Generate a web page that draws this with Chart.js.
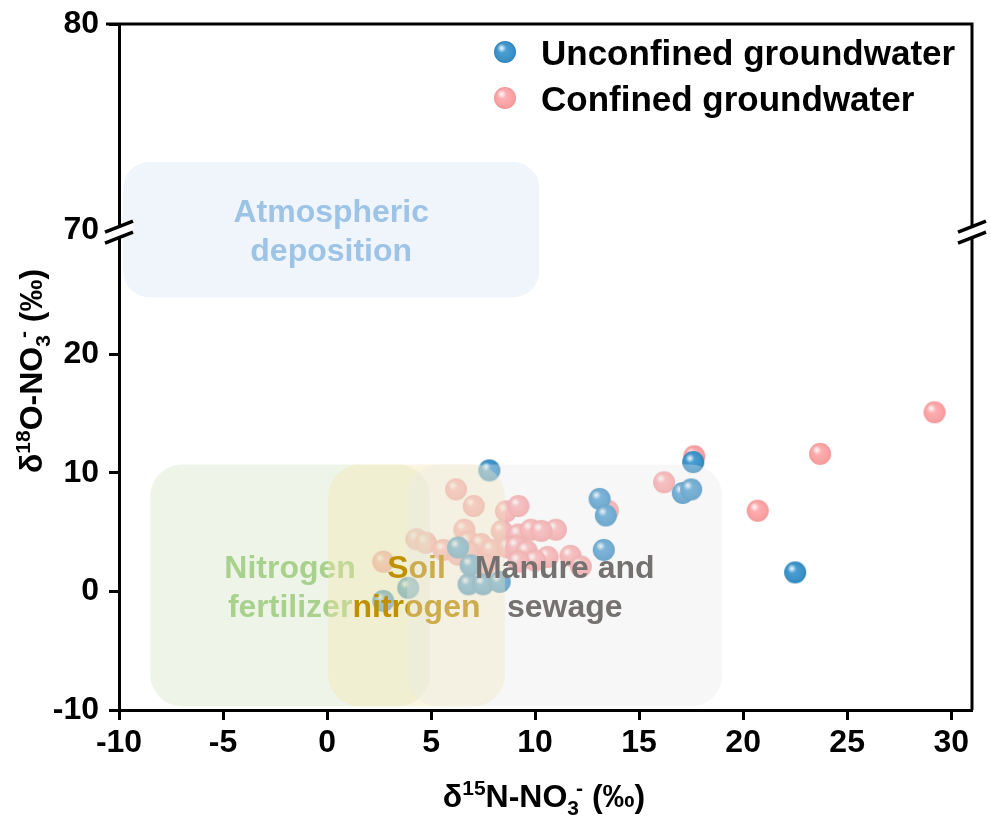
<!DOCTYPE html>
<html>
<head>
<meta charset="utf-8">
<script src="https://cdn.jsdelivr.net/npm/chart.js@4.4.0/dist/chart.umd.min.js"></script>
<style>
  html, body { margin: 0; padding: 0; background: #fff; }
  #wrap { width: 991px; height: 825px; }
</style>
</head>
<body>
<div id="wrap"><canvas id="chart"></canvas></div>
<script>
// unconfined groundwater (blue)
let unc_x = [7.8, 13.1, 13.4, 13.3, 17.1, 17.5, 17.6, 22.5, 2.7, 3.9, 6.8, 7.5, 8.3, 6.3, 6.9];
let unc_y = [10.2, 7.8, 6.4, 3.5, 8.3, 8.6, 10.9, 1.6, -0.8, 0.3, 0.6, 0.6, 0.8, 3.7, 2.2];
// confined groundwater (pink)
let con_x = [29.2, 23.7, 20.7, 17.65, 16.2, 13.5, 11.0, 10.6, 11.7, 12.2, 6.2, 7.05, 8.6, 9.2, 6.6, 8.4, 9.2, 9.8, 10.3, 6.8, 7.4, 4.3, 4.75, 5.6, 6.3, 6.8, 7.9, 8.7, 9.1, 9.6, 2.7, 10.0, 9.2, 7.6];
let con_y = [15.1, 11.6, 6.8, 11.4, 9.2, 6.8, 5.2, 2.9, 3.0, 2.1, 8.6, 7.2, 6.75, 7.2, 5.2, 5.1, 4.8, 5.2, 5.1, 4.2, 4.0, 4.4, 4.1, 3.5, 3.1, 3.3, 3.5, 3.7, 3.8, 3.4, 2.5, 2.6, 2.5, 2.2];

let series_names = ['Unconfined groundwater', 'Confined groundwater'];

// source ranges
let source_names = [['Atmospheric', 'deposition'], ['Nitrogen', 'fertilizer'], ['Soil', 'nitrogen'], ['Manure and', 'sewage']];
let source_x = [[-9.8, 10.2], [-8.5, 4.95], [0.05, 8.55], [3.85, 19.0]];
let source_y = [[24.8, 73.3], [-9.7, 10.7], [-9.7, 10.7], [-9.7, 10.7]];

let x_ticks = [-10, -5, 0, 5, 10, 15, 20, 25, 30];
let y_ticks = [-10, 0, 10, 20, 70, 80];

// broken y axis: lower part -10..LOW_TOP, upper part 70..80 stretched
const LOW_TOP = 30.46;
const UP_K = 1.738;
function yd(v) {
    return v <= LOW_TOP ? v : LOW_TOP + (v - 70) * UP_K;
}

const FONT = '"Liberation Sans", Arial, sans-serif';
const BLUE = [58, 143, 196];
const PINK = [250, 160, 162];
const BOX_FILL = ['rgba(212,226,244,0.36)', 'rgba(208,228,190,0.36)', 'rgba(242,228,170,0.36)', 'rgba(230,230,230,0.33)'];
const TEXT_COL = ['#9dc3e6', '#a9d18e', '#bf9000', '#767171'];

function ball(rgb, r) {
    let c = document.createElement('canvas');
    c.width = c.height = r * 2 + 2;
    let g = c.getContext('2d');
    let cx = r + 1, cy = r + 1;
    let base = g.createRadialGradient(cx - r * 0.2, cy - r * 0.25, r * 0.1, cx, cy, r);
    base.addColorStop(0, `rgb(${rgb.map(v => Math.min(255, v + 20)).join(',')})`);
    base.addColorStop(0.8, `rgb(${rgb.join(',')})`);
    base.addColorStop(1, `rgb(${rgb.map(v => v - 12).join(',')})`);
    g.fillStyle = base;
    g.beginPath(); g.arc(cx, cy, r, 0, Math.PI * 2); g.fill();
    let hl = g.createRadialGradient(cx - r * 0.3, cy - r * 0.35, 0, cx - r * 0.3, cy - r * 0.35, r * 0.42);
    hl.addColorStop(0, 'rgba(255,255,255,0.95)');
    hl.addColorStop(1, 'rgba(255,255,255,0)');
    g.fillStyle = hl;
    g.beginPath(); g.arc(cx, cy, r, 0, Math.PI * 2); g.fill();
    return c;
}
const BALL_BLUE = ball(BLUE, 11);
const BALL_PINK = ball(PINK, 11);

function roundRect(ctx, x, y, w, h, r) {
    ctx.beginPath();
    ctx.moveTo(x + r, y);
    ctx.arcTo(x + w, y, x + w, y + h, r);
    ctx.arcTo(x + w, y + h, x, y + h, r);
    ctx.arcTo(x, y + h, x, y, r);
    ctx.arcTo(x, y, x + w, y, r);
    ctx.closePath();
}

// rich text runs: n = normal, sup, sub
function runsWidth(ctx, runs, size) {
    let w = 0;
    runs.forEach(r => {
        ctx.font = `bold ${r.s === 'n' ? size : Math.round(size * 0.66)}px ${FONT}`;
        w += ctx.measureText(r.t).width + (r.dx || 0);
    });
    return w;
}
function drawRuns(ctx, runs, x, y, size) {
    runs.forEach(r => {
        let fs = r.s === 'n' ? size : Math.round(size * 0.66);
        ctx.font = `bold ${fs}px ${FONT}`;
        let dy = r.s === 'sup' ? -size * 0.38 : r.s === 'sub' ? size * 0.25 : 0;
        x += (r.dx || 0);
        ctx.fillText(r.t, x, y + dy);
        x += ctx.measureText(r.t).width;
    });
}
const X_TITLE = [{t: 'δ', s: 'n'}, {t: '15', s: 'sup'}, {t: 'N-NO', s: 'n'}, {t: '3', s: 'sub'}, {t: '-', s: 'sup', dx: -3}, {t: ' (‰)', s: 'n'}];
const Y_TITLE = [{t: 'δ', s: 'n'}, {t: '18', s: 'sup'}, {t: 'O-NO', s: 'n'}, {t: '3', s: 'sub'}, {t: '-', s: 'sup', dx: -3}, {t: ' (‰)', s: 'n'}];

const overlay = {
    id: 'overlay',
    afterDatasetsDraw(chart) {
        const ctx = chart.ctx, xs = chart.scales.x, ys = chart.scales.y, a = chart.chartArea;
        ctx.save();
        // source boxes, each followed by its label
        for (let i = 0; i < source_names.length; i++) {
            let x0 = xs.getPixelForValue(source_x[i][0]), x1 = xs.getPixelForValue(source_x[i][1]);
            let y0 = ys.getPixelForValue(yd(source_y[i][1])), y1 = ys.getPixelForValue(yd(source_y[i][0]));
            ctx.fillStyle = BOX_FILL[i];
            roundRect(ctx, x0, y0, x1 - x0, y1 - y0, i === 0 ? 26 : 32);
            ctx.fill();
            let cx = (x0 + x1) / 2, cy = (y0 + y1) / 2;
            ctx.fillStyle = TEXT_COL[i];
            ctx.font = `bold 32px ${FONT}`;
            ctx.textAlign = 'center';
            ctx.textBaseline = 'alphabetic';
            ctx.fillText(source_names[i][0], cx, cy - 7.5);
            ctx.fillText(source_names[i][1], cx, cy + 31.5);
        }
        // legend
        ctx.textAlign = 'left';
        ctx.fillStyle = '#000';
        ctx.font = `bold 35px ${FONT}`;
        [BALL_BLUE, BALL_PINK].forEach((b, i) => {
            let ly = 52 + i * 46;
            ctx.drawImage(b, 505 - b.width / 2, ly - b.height / 2);
            ctx.fillText(series_names[i], 541, ly + 13);
        });
        // frame top / right
        ctx.strokeStyle = '#000';
        ctx.lineWidth = 3;
        ctx.beginPath();
        ctx.moveTo(a.left - 13, a.top);
        ctx.lineTo(a.right, a.top);
        ctx.lineTo(a.right, a.bottom);
        ctx.stroke();
        // axis break marks
        let by = ys.getPixelForValue(yd(70));
        [a.left, a.right].forEach(bx => {
            ctx.fillStyle = '#fff';
            ctx.beginPath();
            ctx.moveTo(bx - 14, by + 2); ctx.lineTo(bx + 14, by - 9);
            ctx.lineTo(bx + 14, by + 2); ctx.lineTo(bx - 14, by + 13);
            ctx.closePath(); ctx.fill();
            ctx.strokeStyle = '#000';
            ctx.lineWidth = 3.5;
            ctx.beginPath();
            ctx.moveTo(bx - 14, by + 2); ctx.lineTo(bx + 14, by - 9);
            ctx.moveTo(bx - 14, by + 13); ctx.lineTo(bx + 14, by + 2);
            ctx.stroke();
        });
        // axis titles
        ctx.fillStyle = '#000';
        ctx.textAlign = 'left';
        let ts = 32;
        let wx = runsWidth(ctx, X_TITLE, ts);
        drawRuns(ctx, X_TITLE, 544 - wx / 2, 807, ts);
        let wy = runsWidth(ctx, Y_TITLE, ts);
        ctx.translate(42, 371);
        ctx.rotate(-Math.PI / 2);
        drawRuns(ctx, Y_TITLE, -wy / 2, 0, ts);
        ctx.restore();
    }
};

const chart = new Chart(document.getElementById('chart'), {
    type: 'scatter',
    data: {
        datasets: [{
            label: series_names[0],
            data: unc_x.map((x, i) => ({x: x, y: yd(unc_y[i])})),
            pointStyle: BALL_BLUE,
            backgroundColor: `rgb(${BLUE.join(',')})`
        }, {
            label: series_names[1],
            data: con_x.map((x, i) => ({x: x, y: yd(con_y[i])})),
            pointStyle: BALL_PINK,
            backgroundColor: `rgb(${PINK.join(',')})`
        }]
    },
    options: {
        responsive: true,
        maintainAspectRatio: false,
        animation: false,
        devicePixelRatio: 1,
        layout: {padding: {top: 24, right: 19, left: 0, bottom: 0}},
        plugins: {legend: {display: false}, tooltip: {enabled: false}},
        scales: {
            x: {
                type: 'linear', min: -10, max: 31,
                afterBuildTicks: s => { s.ticks = x_ticks.map(v => ({value: v})); },
                afterFit: s => { s.height = 115; s.paddingLeft = 0; s.paddingRight = 0; },
                border: {display: true, color: '#000', width: 3},
                grid: {drawOnChartArea: false, drawTicks: true, tickLength: 10, tickWidth: 3, tickColor: '#000'},
                ticks: {color: '#000', padding: 4, font: {family: FONT, size: 32, weight: 'bold'}, maxRotation: 0}
            },
            y: {
                type: 'linear', min: -10, max: yd(80),
                afterBuildTicks: s => { s.ticks = y_ticks.map(v => ({value: yd(v)})); },
                afterFit: s => { s.width = 119; s.paddingTop = 0; s.paddingBottom = 0; },
                border: {display: true, color: '#000', width: 3},
                grid: {drawOnChartArea: false, drawTicks: true, tickLength: 10, tickWidth: 3, tickColor: '#000'},
                ticks: {
                    color: '#000', padding: 10, font: {family: FONT, size: 32, weight: 'bold'},
                    callback: (v, i) => y_ticks[i]
                }
            }
        }
    },
    plugins: [overlay]
});
</script>
</body>
</html>
